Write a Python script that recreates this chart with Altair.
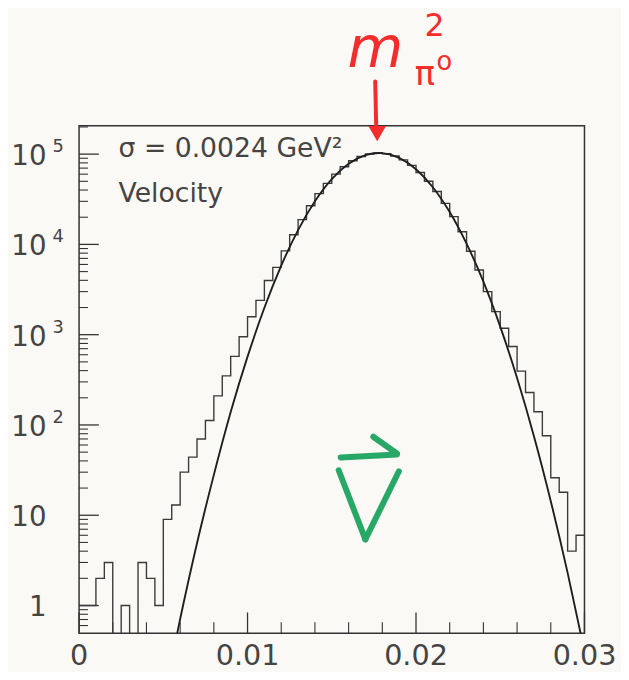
import altair as alt
import pandas as pd

# ---------------- data ----------------
bin_width = 0.0005
counts = [1, 1, 2, 3, 0, 1, 0, 3, 2, 1,
          9, 13, 30, 44, 70, 112, 210, 350, 575, 950,
          1580, 2400, 3980, 5560, 8470, 12800, 18800, 26800, 36500, 47500,
          60000, 72500, 84500, 94000, 100500, 103000, 101000, 95500, 86500, 75000,
          62500, 50000, 38500, 28500, 20300, 13800, 8400, 5200, 3000, 1800,
          1180, 740, 395, 229, 140, 76, 26, 18, 4, 6]

curve_x = [0.005, 0.006, 0.007, 0.008, 0.009, 0.010, 0.011, 0.012, 0.013, 0.014,
           0.015, 0.016, 0.017, 0.0178, 0.018, 0.019, 0.020, 0.021, 0.022, 0.023,
           0.024, 0.025, 0.026, 0.027, 0.028, 0.029, 0.030]
curve_y = [0.087, 0.71, 4.9, 28, 139, 571, 1990, 5830, 14400, 30000,
           52800, 78100, 97500, 103000, 102600, 91100, 68100, 43000, 22800, 10200,
           3870, 1230, 331, 75, 14.3, 2.3, 0.31]

y_ticks = [1, 10, 100, 1000, 10000, 100000]
y_bases = ["1", "10", "10", "10", "10", "10"]
y_exps = ["", "", "2", "3", "4", "5"]
x_ticks = [0, 0.01, 0.02, 0.03]
x_labels = ["0", "0.01", "0.02", "0.03"]

sigma_text = "σ = 0.0024 GeV²"
method_text = "Velocity"

# ---------------- layout ----------------
W, H = 512, 514
FONT = "DejaVu Sans"
INK = "#444444"
RED = "#f42c2c"
GREEN = "#27a866"

xscale = alt.Scale(domain=[0, 0.03], nice=False, zero=False)
yscale = alt.Scale(type="log", domain=[0.494, 206000], nice=False)

# histogram (step line)
edges = [i * bin_width for i in range(len(counts))] + [0.03]
vals = counts + [counts[-1]]
hist_df = pd.DataFrame({"x": edges, "n": [v if v > 0 else 0.05 for v in vals]})
hist = alt.Chart(hist_df).mark_line(
    interpolate="step-after", clip=True, color="#3a3a3a", strokeWidth=1.4
).encode(
    x=alt.X("x:Q", scale=xscale, axis=None),
    y=alt.Y("n:Q", scale=yscale, axis=None),
)

curve_df = pd.DataFrame({"x": curve_x, "n": curve_y})
curve = alt.Chart(curve_df).mark_line(
    interpolate="monotone", clip=True, color="#1e1e1e", strokeWidth=1.9
).encode(
    x=alt.X("x:Q", scale=xscale, axis=None),
    y=alt.Y("n:Q", scale=yscale, axis=None),
)

# ticks (inward)
y_minor = [m * 10 ** d for d in range(-1, 6) for m in range(2, 10)
           if 0.55 <= m * 10 ** d <= 206000]
x_minor = [round(0.002 * i, 4) for i in range(1, 15) if i % 5 != 0]

ymaj = alt.Chart(pd.DataFrame({"v": y_ticks})).mark_rule(color="#333", strokeWidth=1.3).encode(
    y=alt.Y("v:Q", scale=yscale, axis=None), x=alt.value(0), x2=alt.value(20))
ymin = alt.Chart(pd.DataFrame({"v": y_minor})).mark_rule(color="#333", strokeWidth=1.1).encode(
    y=alt.Y("v:Q", scale=yscale, axis=None), x=alt.value(0), x2=alt.value(9))
xmaj = alt.Chart(pd.DataFrame({"v": x_ticks})).mark_rule(color="#333", strokeWidth=1.3).encode(
    x=alt.X("v:Q", scale=xscale, axis=None), y=alt.value(H), y2=alt.value(H - 21))
xmin = alt.Chart(pd.DataFrame({"v": x_minor})).mark_rule(color="#333", strokeWidth=1.1).encode(
    x=alt.X("v:Q", scale=xscale, axis=None), y=alt.value(H), y2=alt.value(H - 11))

# tick labels
ylab_df = pd.DataFrame({"v": y_ticks, "base": y_bases, "exp": y_exps})
ybase = alt.Chart(ylab_df).mark_text(
    align="right", baseline="alphabetic", dy=11, font=FONT, fontSize=28, color=INK
).encode(x=alt.value(-33), y=alt.Y("v:Q", scale=yscale, axis=None), text="base:N")
yexp = alt.Chart(ylab_df).mark_text(
    align="left", baseline="alphabetic", dy=-2, font=FONT, fontSize=18, color=INK
).encode(x=alt.value(-27), y=alt.Y("v:Q", scale=yscale, axis=None), text="exp:N")

xlab = alt.Chart(pd.DataFrame({"v": x_ticks, "lab": x_labels})).mark_text(
    align="center", baseline="alphabetic", font=FONT, fontSize=29, color=INK
).encode(x=alt.X("v:Q", scale=xscale, axis=None), y=alt.value(H + 32), text="lab:N")


def label(txt, x, y, size, color=INK, style="normal", align="left"):
    return alt.Chart(pd.DataFrame({"t": [txt]})).mark_text(
        align=align, baseline="alphabetic", font=FONT, fontSize=size,
        fontStyle=style, color=color
    ).encode(x=alt.value(x), y=alt.value(y), text="t:N")


def stroke(x1, y1, x2, y2, color, w):
    return alt.Chart(pd.DataFrame({"a": [0]})).mark_rule(
        color=color, strokeWidth=w, strokeCap="round"
    ).encode(x=alt.value(x1), y=alt.value(y1), x2=alt.value(x2), y2=alt.value(y2))


sig = label(sigma_text, 40, 32, 27)
vel = label(method_text, 40, 77, 27)

# red handwritten annotation m_{pi0}^2 with arrow
m_txt = label("m", 272, -60, 58, RED, "italic")
two = label("2", 350, -91, 32, RED)
pi_txt = label("π", 340, -41, 34, RED)
zero_txt = label("o", 362, -57, 26, RED)
arrow_shaft = stroke(300, -45, 301, 0, RED, 4)
arrow_head = alt.Chart(pd.DataFrame({"a": [0]})).mark_point(
    shape="triangle-down", filled=True, color=RED, size=320, opacity=1
).encode(x=alt.value(302), y=alt.value(8))

# green handwritten vector V
g1 = stroke(265, 336, 322, 333, GREEN, 6)
g2 = stroke(298, 315, 322, 332, GREEN, 6)
g3 = stroke(263, 349, 290, 419, GREEN, 6)
g4 = stroke(290, 419, 324, 350, GREEN, 6)

chart = alt.layer(
    ymin, ymaj, xmin, xmaj, hist, curve, ybase, yexp, xlab, sig, vel,
    m_txt, two, pi_txt, zero_txt, arrow_shaft, arrow_head, g1, g2, g3, g4
).properties(
    width=W, height=H,
    padding={"left": 72, "top": 115, "right": 37, "bottom": 35},
    autosize=alt.AutoSizeParams(type="none"),
    background="#faf9f5",
).configure_view(stroke="#333333", strokeWidth=1.5)

chart.save("out.html", embed_options={"renderer": "svg", "actions": False})
